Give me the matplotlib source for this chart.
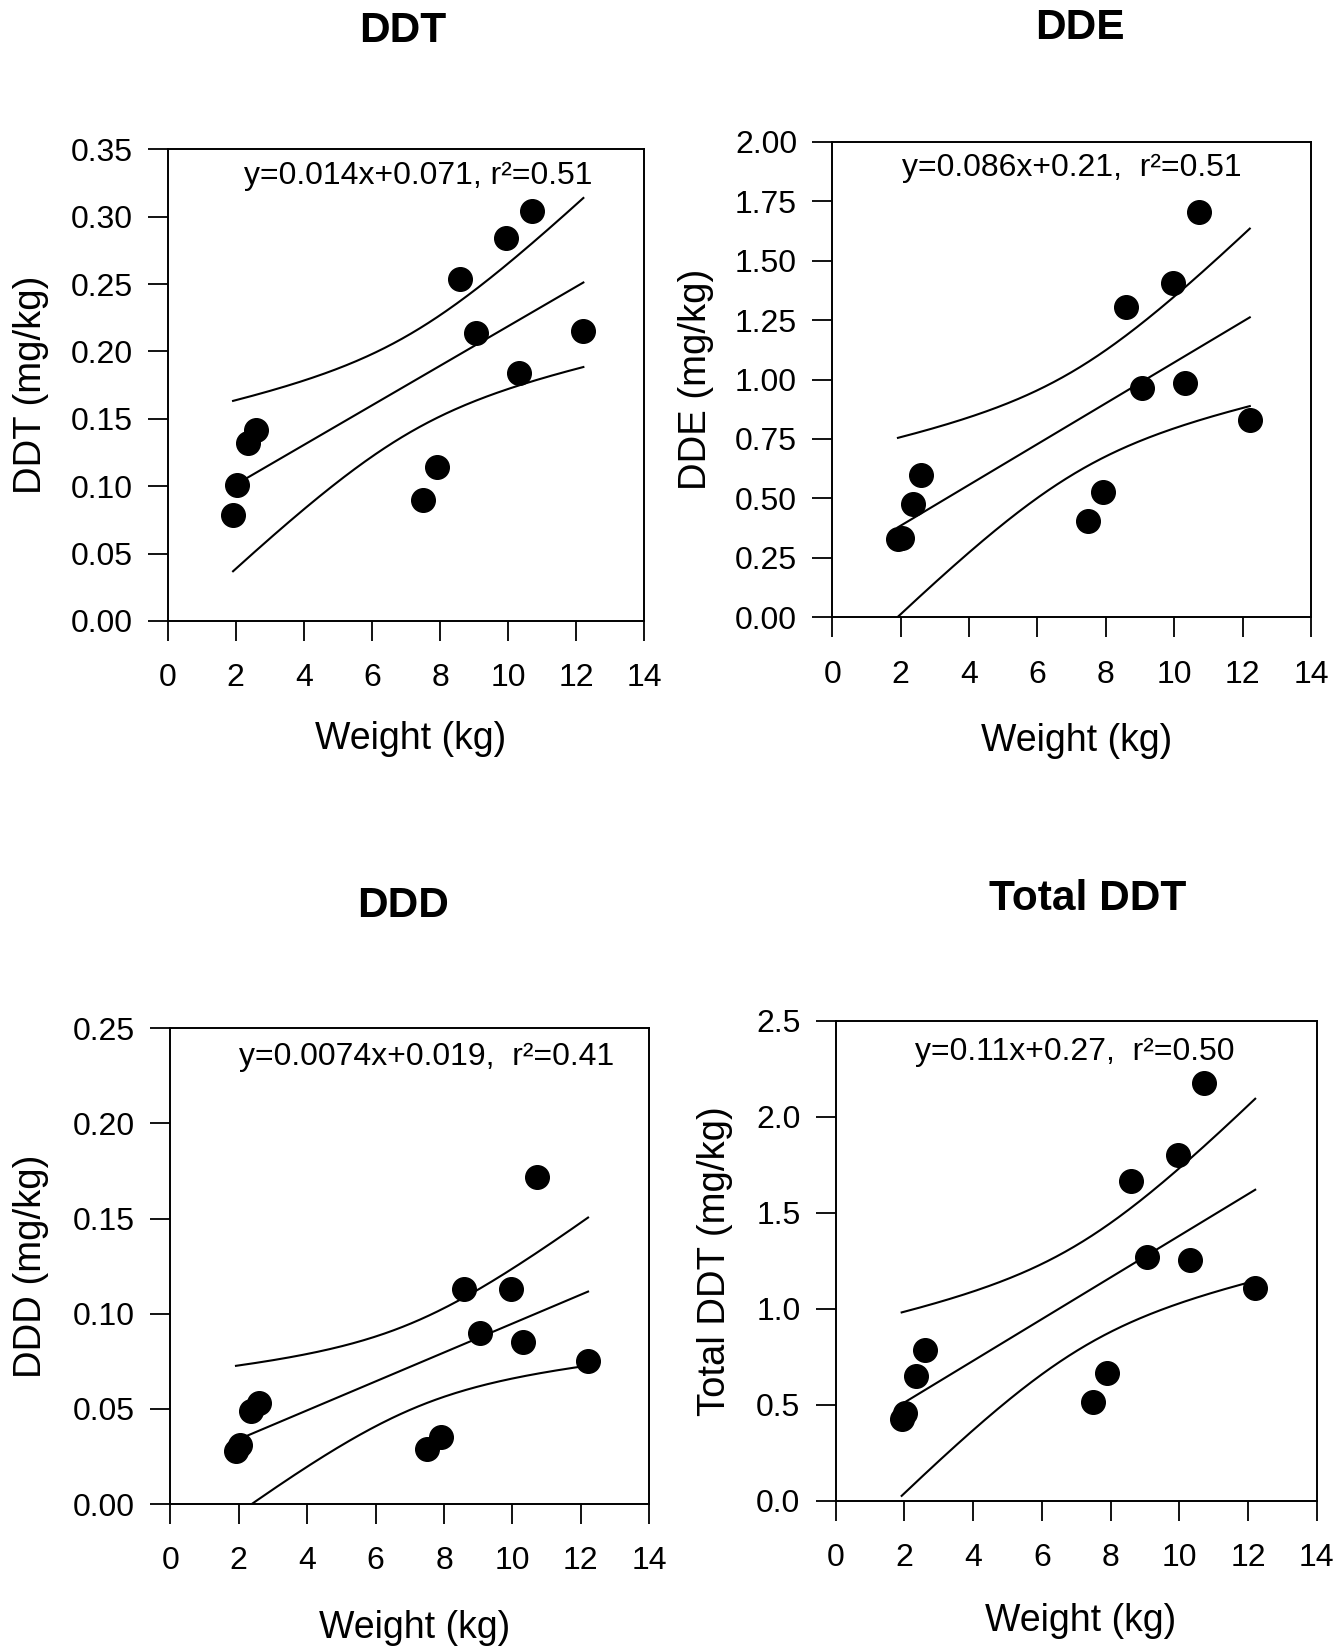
"""Four-panel DDT / DDE / DDD / Total DDT vs body weight, with linear fit and 95% CI."""

import matplotlib
matplotlib.use("Agg")
import matplotlib.pyplot as plt
import numpy as np

plt.rcParams["font.family"] = ["Liberation Sans", "DejaVu Sans"]

# ---- data ----
weight = [1.92, 2.03, 2.35, 2.60, 7.49, 7.91, 8.59, 9.06, 9.95, 10.32, 10.71, 12.21]

ddt = [0.079, 0.101, 0.132, 0.142, 0.090, 0.114, 0.254, 0.214, 0.284, 0.184, 0.304, 0.215]
dde = [0.329, 0.334, 0.476, 0.597, 0.407, 0.528, 1.304, 0.965, 1.406, 0.987, 1.706, 0.831]
ddd = [0.028, 0.031, 0.049, 0.053, 0.029, 0.035, 0.113, 0.090, 0.113, 0.085, 0.172, 0.075]
total_ddt = [0.424, 0.457, 0.652, 0.783, 0.515, 0.667, 1.667, 1.272, 1.804, 1.254, 2.178, 1.109]

titles = ["DDT", "DDE", "DDD", "Total DDT"]
ylabels = ["DDT (mg/kg)", "DDE (mg/kg)", "DDD (mg/kg)", "Total DDT (mg/kg)"]
equations = [
    "y=0.014x+0.071, r\u00b2=0.51",
    "y=0.086x+0.21,  r\u00b2=0.51",
    "y=0.0074x+0.019,  r\u00b2=0.41",
    "y=0.11x+0.27,  r\u00b2=0.50",
]
yticks = [
    [0.00, 0.05, 0.10, 0.15, 0.20, 0.25, 0.30, 0.35],
    [0.00, 0.25, 0.50, 0.75, 1.00, 1.25, 1.50, 1.75, 2.00],
    [0.00, 0.05, 0.10, 0.15, 0.20, 0.25],
    [0.0, 0.5, 1.0, 1.5, 2.0, 2.5],
]
ytick_fmt = ["{:.2f}", "{:.2f}", "{:.2f}", "{:.1f}"]
xticks = [0, 2, 4, 6, 8, 10, 12, 14]
series = [ddt, dde, ddd, total_ddt]

# ---- layout (figure fractions) ----
W, H = 1334, 1648
axes_px = [  # left, top, right, bottom in pixels
    (167.7, 149.3, 644.3, 621.0),
    (832.3, 141.7, 1311.0, 617.3),
    (170.3, 1028.3, 649.3, 1504.0),
    (835.7, 1021.0, 1316.7, 1500.7),
]
title_px = [(403, 31), (1080, 28), (403, 906), (1088, 899)]
eq_pos = [(0.526, 0.944), (0.501, 0.945), (0.536, 0.940), (0.4975, 0.936)]
ylab_x = [-0.286, -0.285, -0.290, -0.251]
xlab_y = [-0.250, -0.260, -0.261, -0.251]

T975 = 2.228  # t(0.975, df=10)

fig = plt.figure(figsize=(W / 100, H / 100), dpi=100)

for i in range(4):
    l, t, r, b = axes_px[i]
    ax = fig.add_axes([l / W, 1 - b / H, (r - l) / W, (b - t) / H])

    x = np.asarray(weight)
    y = np.asarray(series[i])

    # linear fit + 95% confidence band for the mean
    slope, icpt = np.polyfit(x, y, 1)
    n = len(x)
    resid = y - (slope * x + icpt)
    s = np.sqrt(np.sum(resid ** 2) / (n - 2))
    sxx = np.sum((x - x.mean()) ** 2)
    xs = np.linspace(x.min(), x.max(), 200)
    fit = slope * xs + icpt
    half = T975 * s * np.sqrt(1 / n + (xs - x.mean()) ** 2 / sxx)

    ax.plot(xs, fit, color="black", lw=1.5)
    ax.plot(xs, fit + half, color="black", lw=1.5)
    ax.plot(xs, fit - half, color="black", lw=1.5)
    ax.plot(x, y, "o", color="black", ms=17, mec="black", zorder=3, clip_on=False)

    ax.set_xlim(0, 14)
    ax.set_ylim(yticks[i][0], yticks[i][-1])
    ax.set_xticks(xticks)
    ax.set_yticks(yticks[i])
    ax.set_yticklabels([ytick_fmt[i].format(v) for v in yticks[i]])
    ax.tick_params(direction="out", length=14.4, width=1.3, labelsize=23,
                   top=False, right=False)
    ax.tick_params(axis="x", pad=16)
    ax.tick_params(axis="y", pad=11)
    for sp in ax.spines.values():
        sp.set_linewidth(1.4)

    ax.text(eq_pos[i][0], eq_pos[i][1], equations[i], transform=ax.transAxes,
            ha="center", va="center", fontsize=23)

    ax.set_xlabel("Weight (kg)", fontsize=27)
    ax.xaxis.set_label_coords(0.51, xlab_y[i])
    ax.xaxis.label.set_verticalalignment("center")
    ax.set_ylabel(ylabels[i], fontsize=27.5)
    ax.yaxis.set_label_coords(ylab_x[i], 0.5)
    ax.yaxis.label.set_verticalalignment("center")

    tx, ty = title_px[i]
    fig.text(tx / W, 1 - ty / H, titles[i], ha="center", va="center",
             fontsize=30.5, fontweight="bold")

fig.savefig("out.png", dpi=100)
